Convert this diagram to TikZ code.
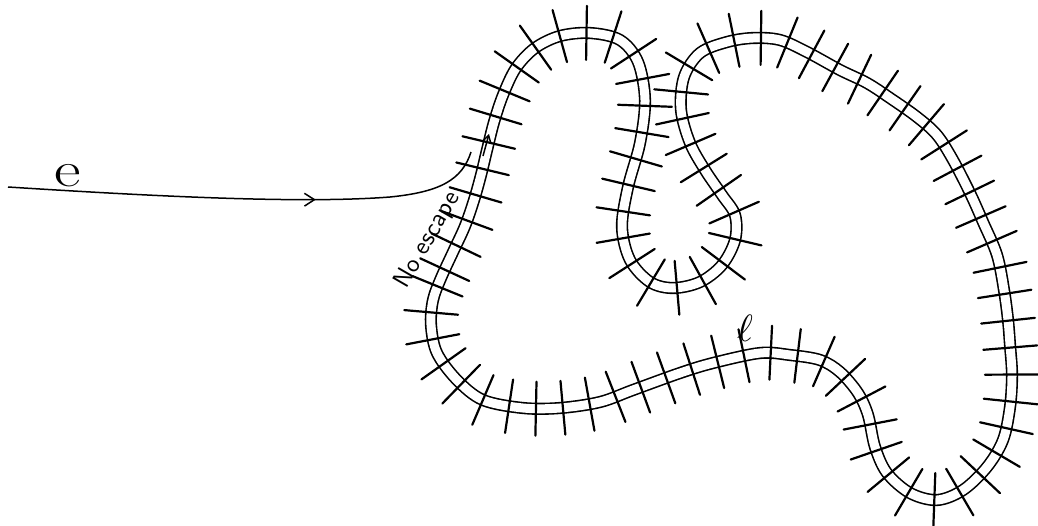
\documentclass[tikz,border=0pt]{standalone}
\usepackage{tikz}
\usetikzlibrary{arrows.meta, decorations.markings}
\tikzset{
    channel/.style={
        draw=black, line width=1.6pt, double=white, double distance=9pt,
        line join=round,
    },
    hatched/.style={
        postaction={decorate},
        decoration={markings,
            mark=between positions 0.004 and 1 step 27pt with
                {\draw[line width=2.2pt, line cap=round] (0,-27pt) -- (0,27pt);}},
    },
    ray/.style={line width=1.5pt, draw=black},
    headmark/.style={
        postaction={decorate},
        decoration={markings,
            mark=at position 0.64 with {\arrow[line width=1.5pt]{Straight Barb[length=3.5mm, width=4.5mm]}}},
    },
    tag/.style={inner sep=0pt, font=\fontsize{50}{50}\selectfont},
}

\begin{document}
\begin{tikzpicture}[x=1pt, y=-1pt]
    \useasboundingbox[fill=white] (0,0) rectangle (1038,525);

    % the closed corridor
    \path[preaction={channel}, hatched] plot[smooth cycle, tension=0.55] coordinates {
        (433,300) (441,278) (453,252) (465,226) (474,200) (481,175)
        (487,150) (494,122) (503,95) (516,68) (535,48) (560,36)
        (590,33) (620,40) (638,62)
        (645,100) (640,143) (628,187) (622,227) (630,260) (650,282)
        (673,288) (700,282) (722,265) (735,240) (735,215) (722,195)
        (705,170) (690,143) (681,110) (684,77) (700,53) (727,42)
        (753,38) (780,40) (807,52) (840,70) (867,83) (890,98)
        (917,117) (937,135) (953,160) (970,193) (983,222) (997,255)
        (1004,290) (1008,320) (1010,345) (1012,375) (1010,407) (1003,440)
        (987,467) (963,490) (937,500) (910,493) (887,473) (875,447)
        (868,415) (858,393) (840,372) (820,360) (790,355) (760,353)
        (713,363) (680,373) (633,390) (600,402) (560,408) (523,408)
        (483,400) (457,380) (437,353) (431,325)};

    % incoming ray
    \coordinate (estart) at (8,187);
    \coordinate (entry) at (471,152);
    \draw[ray, headmark] (estart) .. controls (150,196) and (300,204) .. (390,197)
        .. controls (440,192) and (462,180) .. (entry);
    \coordinate (tailin) at (483,156);
    \coordinate (tipin) at (489,134);
    \draw[ray, -{Straight Barb[length=2.5mm, width=3mm]}] (tailin) -- (tipin);

    \node[tag, xscale=1.3] (elabel) at (68,176) {e};
    \node[inner sep=0pt, scale=3.8] (llabel) at (745,328) {$\ell$};
    \node[inner sep=0pt, font=\sffamily, scale=2.5, rotate=60] (noesc)
        at (428,240) {No escape};
\end{tikzpicture}
\end{document}
